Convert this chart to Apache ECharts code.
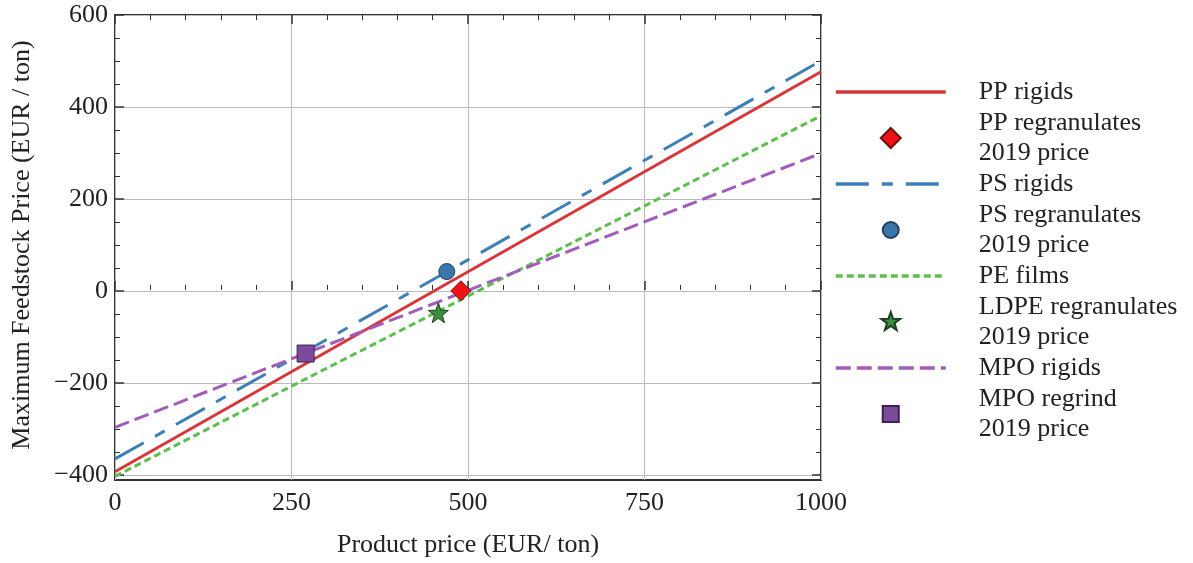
<!DOCTYPE html>
<html>
<head>
<meta charset="utf-8">
<script src="https://cdn.jsdelivr.net/npm/echarts@6/dist/echarts.min.js"></script>
<style>
  html, body { margin: 0; padding: 0; background: #fff; }
  #main { width: 1193px; height: 563px; }
</style>
</head>
<body>
<div id="main"></div>
<script>
// x range of the lines (product price, EUR/ton)
var priceRange = [0, 1000];
// max feedstock price at each end of priceRange
var ppRigids = [-397, 476];
var psRigids = [-369, 500];
var peFilms = [-407, 380];
var mpoRigids = [-300, 298];
// 2019 regranulate prices [product price, feedstock price]
var ppRegranulates = [490, -2];
var psRegranulates = [470, 40];
var ldpeRegranulates = [458, -50];
var mpoRegrind = [270, -139];

var FONT = 'Liberation Serif';
var STAR = 'path://M0,-10 L2.35,-3.24 L9.51,-3.09 L3.8,1.24 L5.88,8.09 L0,4 L-5.88,8.09 L-3.8,1.24 L-9.51,-3.09 L-2.35,-3.24 Z';

// legend icons: shape centred in a 110x22 box (the leading M points fix the box)
var BOX = 'path://M0,0 M110,22 ';
var LEG_DIAMOND = BOX + 'M55,1 L65,11 L55,21 L45,11 Z';
var LEG_CIRCLE = BOX + 'M47,11 A8,8 0 1,1 63,11 A8,8 0 1,1 47,11 Z';
var LEG_STAR = BOX + 'M55,1 L57.35,7.76 L64.51,7.91 L58.8,12.24 L60.88,19.09 L55,15 L49.12,19.09 L51.2,12.24 L45.49,7.91 L52.65,7.76 Z';
var LEG_SQUARE = BOX + 'M47,3 L63,3 L63,19 L47,19 Z';

function pairs(ys) {
    return priceRange.map(function (x, i) { return [x, ys[i]]; });
}
function minus(v) {
    return String(v).replace('-', '\u2212');
}

var myChart = echarts.init(document.getElementById('main'));
var lineLegend = function (name) {
    return {name: name, itemStyle: {opacity: 0}, lineStyle: {width: 3.5}};
};
var option = {
    backgroundColor: '#fff',
    animation: false,
    grid: [
        // data grid, whole frame
        {left: 115, right: 372, top: 15, bottom: 81, show: true,
         borderColor: '#333', borderWidth: 2, backgroundColor: 'transparent'},
        // tick grid, -400..600
        {left: 115, right: 372, top: 15, bottom: 88}
    ],
    xAxis: [
        {
            gridIndex: 0, type: 'value', min: 0, max: 1000, interval: 250,
            position: 'bottom',
            axisLine: {show: false},
            axisTick: {inside: true, length: 9, lineStyle: {color: '#333', width: 1.5}},
            minorTick: {show: true, splitNumber: 5, length: 5, lineStyle: {color: '#333'}},
            splitLine: {show: true, lineStyle: {color: '#bbb', width: 1}},
            axisLabel: {margin: 10, fontFamily: FONT, fontSize: 26, color: '#222',
                        formatter: function (v) { return String(v); }},
            name: 'Product price (EUR/ ton)',
            nameLocation: 'middle', nameGap: 52,
            nameTextStyle: {fontFamily: FONT, fontSize: 26, color: '#222'}
        },
        {
            gridIndex: 0, type: 'value', min: 0, max: 1000, interval: 250,
            position: 'top',
            axisLine: {show: false},
            axisTick: {inside: true, length: 9, lineStyle: {color: '#333', width: 1.5}},
            minorTick: {show: true, splitNumber: 5, length: 5, lineStyle: {color: '#333'}},
            splitLine: {show: false},
            axisLabel: {show: false}
        },
        {gridIndex: 1, type: 'value', min: 0, max: 1000, show: false}
    ],
    yAxis: [
        {gridIndex: 0, type: 'value', min: -415, max: 600, show: false},
        {
            gridIndex: 1, type: 'value', min: -400, max: 600, interval: 200,
            position: 'left',
            axisLine: {show: false},
            axisTick: {inside: true, length: 9, lineStyle: {color: '#333', width: 1.5}},
            minorTick: {show: true, splitNumber: 4, length: 5, lineStyle: {color: '#333'}},
            splitLine: {show: true, lineStyle: {color: '#bbb', width: 1}},
            axisLabel: {margin: 7, fontFamily: FONT, fontSize: 26, color: '#222', formatter: minus},
            name: 'Maximum Feedstock Price (EUR / ton)',
            nameLocation: 'middle', nameGap: 80, nameRotate: 90,
            nameTextStyle: {fontFamily: FONT, fontSize: 26, color: '#222'}
        },
        {
            gridIndex: 1, type: 'value', min: -400, max: 600, interval: 200,
            position: 'right',
            axisLine: {show: false},
            axisTick: {inside: true, length: 9, lineStyle: {color: '#333', width: 1.5}},
            minorTick: {show: true, splitNumber: 4, length: 5, lineStyle: {color: '#333'}},
            splitLine: {show: false},
            axisLabel: {show: false}
        }
    ],
    legend: {
        orient: 'vertical',
        left: 829, top: 72,
        itemWidth: 110, itemHeight: 22, itemGap: 1,
        symbolKeepAspect: false,
        textStyle: {fontFamily: FONT, fontSize: 26, lineHeight: 30, color: '#222', padding: [0, 0, 0, 28]},
        data: [
            lineLegend('PP rigids'),
            {name: 'PP regranulates\n2019 price', icon: LEG_DIAMOND},
            lineLegend('PS rigids'),
            {name: 'PS regranulates\n2019 price', icon: LEG_CIRCLE},
            lineLegend('PE films'),
            {name: 'LDPE regranulates\n2019 price', icon: LEG_STAR},
            lineLegend('MPO rigids'),
            {name: 'MPO regrind\n2019 price', icon: LEG_SQUARE}
        ]
    },
    series: [
        {
            name: 'PP rigids', type: 'line', data: pairs(ppRigids),
            symbol: 'none', lineStyle: {color: '#d9363a', width: 3}, itemStyle: {color: '#d9363a'}
        },
        {
            name: 'PP regranulates\n2019 price', type: 'scatter', data: [ppRegranulates], z: 5,
            symbol: 'diamond', symbolSize: 20,
            itemStyle: {color: '#ee1118', borderColor: '#6a1010', borderWidth: 1, opacity: 1}
        },
        {
            name: 'PS rigids', type: 'line', data: pairs(psRigids),
            symbol: 'none', lineStyle: {color: '#3d80b8', width: 3, type: [33, 13, 11, 13]},
            itemStyle: {color: '#3d80b8'}
        },
        {
            name: 'PS regranulates\n2019 price', type: 'scatter', data: [psRegranulates], z: 5,
            symbol: 'circle', symbolSize: 16,
            itemStyle: {color: '#3a76aa', borderColor: '#23415e', borderWidth: 1, opacity: 1}
        },
        {
            name: 'PE films', type: 'line', data: pairs(peFilms),
            symbol: 'none', lineStyle: {color: '#5cbf4e', width: 3, type: [7, 4]},
            itemStyle: {color: '#5cbf4e'}
        },
        {
            name: 'LDPE regranulates\n2019 price', type: 'scatter', data: [ldpeRegranulates], z: 5,
            symbol: STAR, symbolSize: 20,
            itemStyle: {color: '#3e8e40', borderColor: '#1d3f1e', borderWidth: 1, opacity: 1}
        },
        {
            name: 'MPO rigids', type: 'line', data: pairs(mpoRigids),
            symbol: 'none', lineStyle: {color: '#a35cba', width: 3, type: [15, 6]},
            itemStyle: {color: '#a35cba'}
        },
        {
            name: 'MPO regrind\n2019 price', type: 'scatter', data: [mpoRegrind], z: 5,
            symbol: 'rect', symbolSize: 17,
            itemStyle: {color: '#7c4b9e', borderColor: '#3d2450', borderWidth: 1, opacity: 1}
        }
    ]
};
myChart.setOption(option);
window.onresize = myChart.resize;
</script>
</body>
</html>
